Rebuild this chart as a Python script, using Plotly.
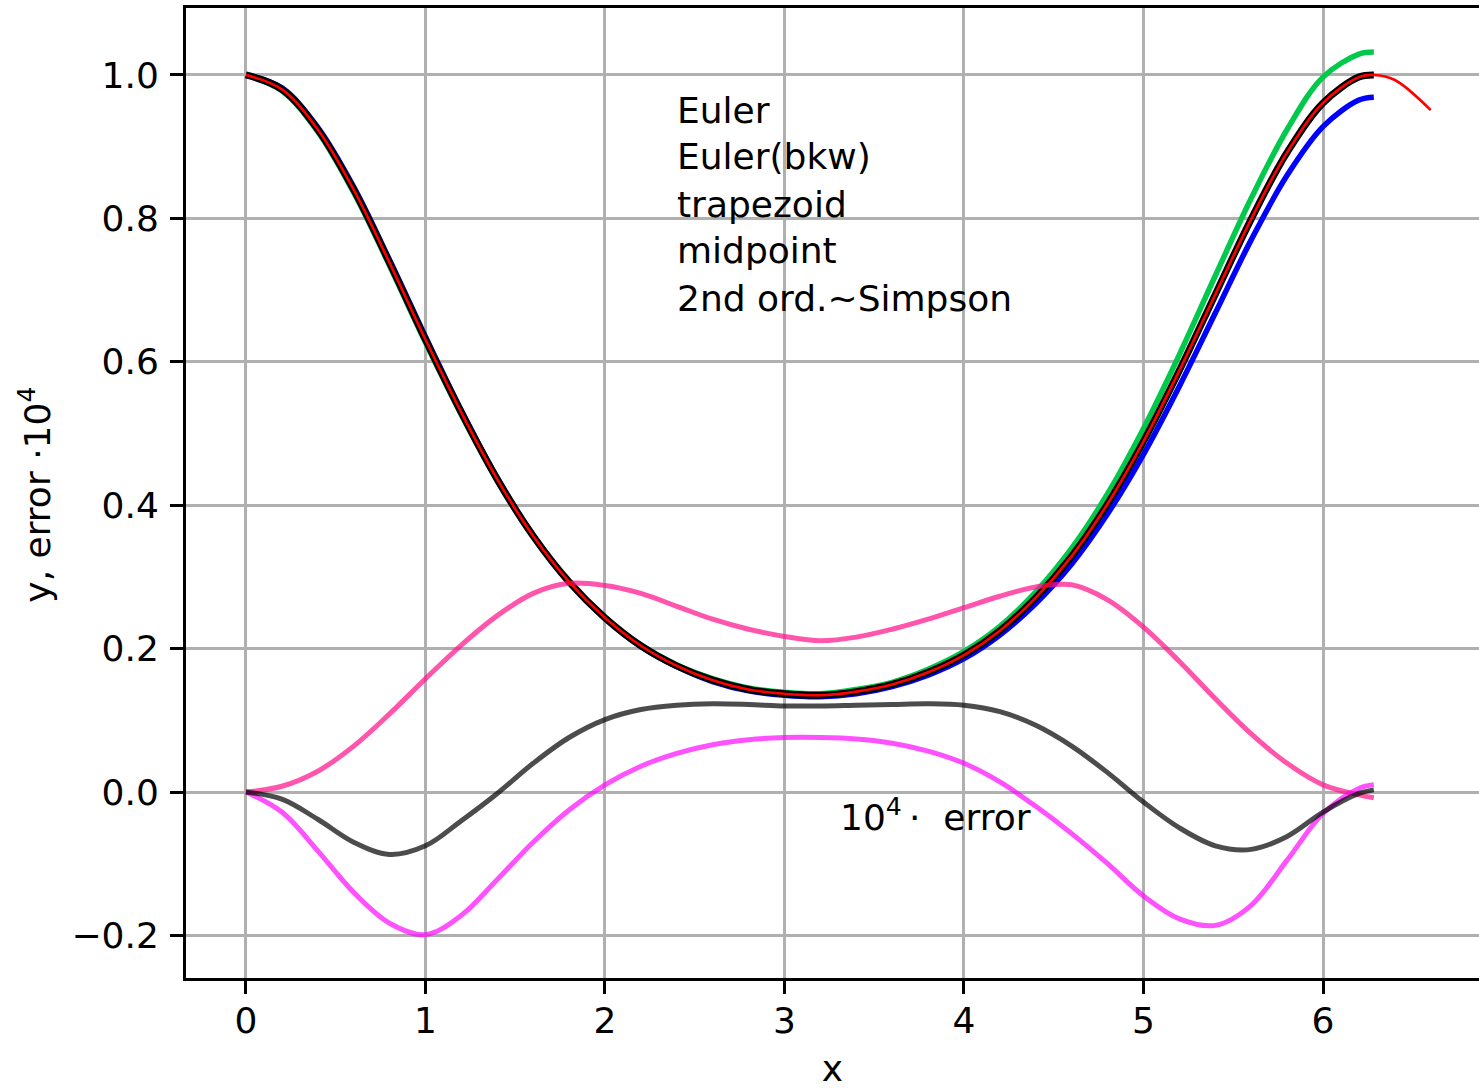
import plotly.graph_objects as go

# sample abscissae (0 .. 2*pi)
X = [0.0, 0.2, 0.4, 0.6, 0.8, 1.0, 1.2, 1.4, 1.6, 1.8, 2.0, 2.2, 2.4, 2.6, 2.8,
     3.0, 3.2, 3.4, 3.6, 3.8, 4.0, 4.2, 4.4, 4.6, 4.8, 5.0, 5.2, 5.4, 5.6, 5.8,
     6.0, 6.2, 6.283]

# solutions of the ODE
EULER = [1.000, 0.982, 0.927, 0.844, 0.742, 0.635, 0.532, 0.438, 0.358, 0.293,
         0.242, 0.203, 0.175, 0.154, 0.141, 0.135, 0.133, 0.137, 0.147, 0.163,
         0.186, 0.219, 0.263, 0.318, 0.388, 0.471, 0.566, 0.668, 0.770, 0.860,
         0.928, 0.965, 0.969]
EULER_BKW = [1.000, 0.978, 0.921, 0.836, 0.734, 0.627, 0.526, 0.434, 0.356, 0.293,
             0.244, 0.205, 0.177, 0.158, 0.145, 0.139, 0.137, 0.143, 0.153, 0.171,
             0.196, 0.231, 0.279, 0.340, 0.416, 0.507, 0.610, 0.720, 0.828, 0.924,
             0.997, 1.029, 1.032]
TRAPEZOID = [1.000, 0.980, 0.924, 0.840, 0.738, 0.631, 0.529, 0.436, 0.357, 0.293,
             0.243, 0.204, 0.176, 0.156, 0.143, 0.137, 0.135, 0.140, 0.150, 0.167,
             0.191, 0.225, 0.271, 0.329, 0.402, 0.489, 0.588, 0.694, 0.799, 0.892,
             0.961, 0.997, 1.000]

# midpoint solution runs a little further
X_MID = X + [6.4, 6.6]
MIDPOINT = TRAPEZOID + [0.993, 0.951]

# errors, scaled by 10^4
ERR_TRAP = [0.000, 0.008, 0.029, 0.064, 0.109, 0.158, 0.205, 0.246, 0.277, 0.291,
            0.288, 0.277, 0.259, 0.241, 0.227, 0.217, 0.211, 0.216, 0.227, 0.241,
            0.257, 0.273, 0.286, 0.289, 0.268, 0.230, 0.182, 0.130, 0.081, 0.040,
            0.010, -0.004, -0.008]
ERR_MID = [0.000, -0.028, -0.082, -0.140, -0.183, -0.199, -0.172, -0.122, -0.070, -0.025,
           0.010, 0.036, 0.054, 0.066, 0.073, 0.076, 0.076, 0.074, 0.068, 0.057,
           0.040, 0.014, -0.020, -0.058, -0.100, -0.145, -0.177, -0.186, -0.158, -0.095,
           -0.030, 0.005, 0.010]
ERR_SIMP = [0.000, -0.010, -0.038, -0.070, -0.087, -0.075, -0.040, -0.002, 0.040, 0.076,
            0.101, 0.115, 0.121, 0.123, 0.122, 0.120, 0.120, 0.121, 0.122, 0.123,
            0.121, 0.112, 0.093, 0.064, 0.027, -0.014, -0.050, -0.075, -0.080, -0.062,
            -0.028, -0.002, 0.003]

LEGEND_LABELS = ["Euler", "Euler(bkw)", "trapezoid", "midpoint", "2nd ord.~Simpson"]
LEGEND_Y = [0.951, 0.886, 0.820, 0.755, 0.688]

X_TICKS = [0, 1, 2, 3, 4, 5, 6]
Y_TICKS = [-0.2, 0.0, 0.2, 0.4, 0.6, 0.8, 1.0]
Y_TICKTEXT = ["\u22120.2", "0.0", "0.2", "0.4", "0.6", "0.8", "1.0"]

FONT = "DejaVu Sans"
FS = 36

fig = go.Figure()


def curve(x, y, color, width):
    fig.add_trace(go.Scatter(
        x=x, y=y, mode="lines",
        line=dict(color=color, width=width, shape="spline", smoothing=1.0),
        hoverinfo="skip", showlegend=False))


curve(X, EULER, "#0000ff", 5.5)
curve(X, EULER_BKW, "#00c94b", 5.5)
curve(X, TRAPEZOID, "#000000", 7)
curve(X, ERR_TRAP, "rgba(255,20,140,0.72)", 5)
curve(X, ERR_MID, "rgba(255,0,255,0.68)", 5)
curve(X, ERR_SIMP, "rgba(0,0,0,0.70)", 5)
curve(X_MID, MIDPOINT, "#ff0000", 2.6)

annotations = []
for lab, yy in zip(LEGEND_LABELS, LEGEND_Y):
    annotations.append(dict(x=2.39, y=yy, xref="x", yref="y", text=lab,
                            showarrow=False, xanchor="left", yanchor="middle",
                            font=dict(family=FONT, size=FS, color="black")))
annotations.append(dict(x=3.30, y=-0.032, xref="x", yref="y",
                        text="10<sup>4</sup>\u2009\u00b7  error", showarrow=False,
                        xanchor="left", yanchor="middle",
                        font=dict(family=FONT, size=FS, color="black")))
annotations.append(dict(x=-0.117, y=0.498, xref="paper", yref="paper",
                        text="y, error \u00b710<sup>4</sup>", textangle=-90,
                        showarrow=False, xanchor="center", yanchor="middle",
                        font=dict(family=FONT, size=FS, color="black")))

fig.update_layout(
    width=1479, height=1089,
    margin=dict(l=186, r=0, t=8, b=111),
    paper_bgcolor="white", plot_bgcolor="white",
    font=dict(family=FONT, size=FS, color="black"),
    annotations=annotations,
    showlegend=False,
)
fig.update_xaxes(
    range=[-0.334, 6.869], tickvals=X_TICKS, ticktext=[str(t) for t in X_TICKS],
    showgrid=True, gridcolor="#b0b0b0", gridwidth=2.9, zeroline=False,
    showline=True, linecolor="black", linewidth=2.9, mirror=True,
    ticks="outside", ticklen=13, tickwidth=2.9, tickcolor="black",
    ticklabelstandoff=-4,
    title=dict(text="x", font=dict(family=FONT, size=FS), standoff=16),
)
fig.update_yaxes(
    range=[-0.2594, 1.0934], tickvals=Y_TICKS, ticktext=Y_TICKTEXT,
    showgrid=True, gridcolor="#b0b0b0", gridwidth=2.9, zeroline=False,
    showline=True, linecolor="black", linewidth=2.9, mirror=False,
    ticks="outside", ticklen=13, tickwidth=2.9, tickcolor="black",
    ticklabelstandoff=4,
)

fig.write_html("out.html")
